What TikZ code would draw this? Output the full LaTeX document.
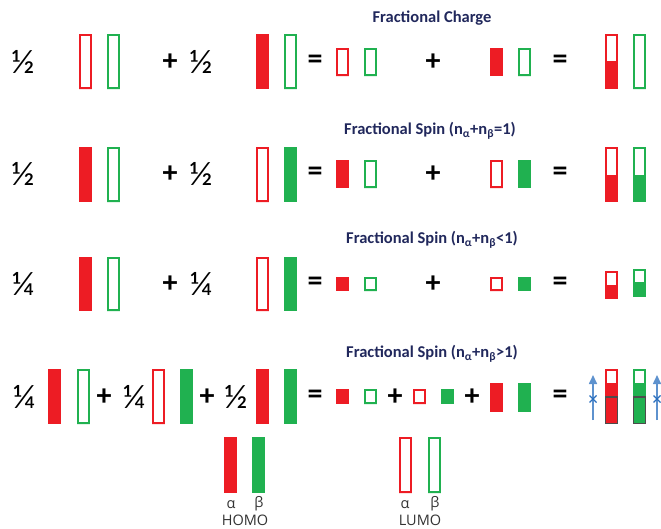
\documentclass[tikz,border=0pt]{standalone}
\usepackage{fontspec}
\setmainfont{Carlito}
\newfontfamily\legendfont{Open Sans}
\usetikzlibrary{arrows.meta}
\definecolor{aRed}{RGB}{237,28,36}
\definecolor{bGreen}{RGB}{32,177,80}
\definecolor{titleblue}{RGB}{33,40,92}
\definecolor{spinblue}{RGB}{40,110,190}
\tikzset{
  lvlln/.style={line width=1.6pt},
  sym/.style={font=\fontsize{34}{34}\selectfont, inner sep=0pt},
  op/.style={font=\bfseries\fontsize{30}{30}\selectfont, inner sep=0pt},
  ttl/.style={titleblue, font=\bfseries\fontsize{16.5}{16.5}\selectfont, inner sep=0pt},
  lgd/.style={font=\legendfont\fontsize{14.5}{14.5}\selectfont, text=black!80, inner sep=0pt},
  spinarr/.style={-{Triangle[length=9pt,width=8pt]}, line width=1.6pt, spinblue!75},
  spinx/.style={spinblue, line width=1.1pt},
}
% orbital level: colour, left x, top y, bottom y, top of the filling
\newcommand{\lvl}[5]{%
  \fill[#1] (#2,#5) rectangle (#2+13,#4);
  \draw[lvlln, #1] (#2+0.8,#3+0.8) rectangle (#2+12.2,#4-0.8);
}

\begin{document}
\begin{tikzpicture}[x=1pt,y=-1pt]
  \useasboundingbox (0,0) rectangle (661,529);
  % titles
  \node[ttl] (t1) at (432,18) {Fractional Charge};
  \node[ttl] (t2) at (430,131) {Fractional Spin (n\textsubscript{α}+n\textsubscript{β}=1)};
  \node[ttl] (t3) at (432,240) {Fractional Spin (n\textsubscript{α}+n\textsubscript{β}<1)};
  \node[ttl] (t4) at (432,354) {Fractional Spin (n\textsubscript{α}+n\textsubscript{β}>1)};
  % weights and signs, rows 1-3
  \foreach \y/\f/\r in {62/½/1, 174/½/2, 284/¼/3} {
    \node[sym] (fa\r) at (23,\y) {\f};
    \node[op] (pa\r) at (170,\y) {+};
    \node[sym] (fb\r) at (201,\y) {\f};
    \node[op] (ea\r) at (315,\y) {=};
    \node[op] (pb\r) at (433,\y) {+};
    \node[op] (eb\r) at (560,\y) {=};
  }
  % row 1
  \lvl{aRed}{79}{34}{89}{89}
  \lvl{bGreen}{107}{34}{89}{89}
  \lvl{aRed}{256}{34}{89}{34}
  \lvl{bGreen}{284}{34}{89}{89}
  \lvl{aRed}{336}{48}{76}{76}
  \lvl{bGreen}{364}{48}{76}{76}
  \lvl{aRed}{490}{48}{76}{48}
  \lvl{bGreen}{518}{48}{76}{76}
  \lvl{aRed}{605}{34}{89}{61}
  \lvl{bGreen}{633}{34}{89}{89}
  % row 2
  \lvl{aRed}{79}{147}{202}{147}
  \lvl{bGreen}{107}{147}{202}{202}
  \lvl{aRed}{256}{147}{202}{202}
  \lvl{bGreen}{284}{147}{202}{147}
  \lvl{aRed}{336}{160}{188}{160}
  \lvl{bGreen}{364}{160}{188}{188}
  \lvl{aRed}{490}{160}{188}{188}
  \lvl{bGreen}{518}{160}{188}{160}
  \lvl{aRed}{605}{147}{202}{175}
  \lvl{bGreen}{633}{147}{202}{175}
  % row 3
  \lvl{aRed}{79}{257}{311}{257}
  \lvl{bGreen}{107}{257}{311}{311}
  \lvl{aRed}{256}{257}{311}{311}
  \lvl{bGreen}{284}{257}{311}{257}
  \lvl{aRed}{336}{277}{291}{277}
  \lvl{bGreen}{364}{277}{291}{291}
  \lvl{aRed}{490}{277}{291}{291}
  \lvl{bGreen}{518}{277}{291}{277}
  \lvl{aRed}{605}{271}{299}{285}
  \lvl{bGreen}{633}{269}{297}{282}
  % row 4
  \node[sym] (fa4) at (24,397) {¼};
  \node[op] (pa4) at (104,397) {+};
  \node[sym] (fb4) at (134,397) {¼};
  \node[op] (pb4) at (207,397) {+};
  \node[sym] (fc4) at (236,397) {½};
  \node[op] (ea4) at (315,397) {=};
  \node[op] (pc4) at (395,397) {+};
  \node[op] (pd4) at (472,397) {+};
  \node[op] (eb4) at (560,397) {=};
  \lvl{aRed}{48}{369}{424}{369}
  \lvl{bGreen}{77}{369}{424}{424}
  \lvl{aRed}{152}{369}{424}{424}
  \lvl{bGreen}{180}{369}{424}{369}
  \lvl{aRed}{256}{369}{424}{369}
  \lvl{bGreen}{284}{369}{424}{369}
  \lvl{aRed}{336}{389}{404}{389}
  \lvl{bGreen}{364}{389}{404}{404}
  \lvl{aRed}{413}{389}{404}{404}
  \lvl{bGreen}{441}{389}{404}{389}
  \lvl{aRed}{490}{383}{412}{383}
  \lvl{bGreen}{518}{383}{412}{383}
  \lvl{aRed}{605}{369}{424}{383}
  \lvl{bGreen}{633}{369}{424}{383}
  \draw[line width=1.3pt, black!70] (605.7,397) rectangle (617.3,423.3);
  \draw[line width=1.3pt, black!70] (633.7,397) rectangle (645.3,423.3);
  % spin arrows
  \coordinate (upLa) at (593,420);
  \coordinate (upLb) at (593,375);
  \coordinate (upRa) at (657,420);
  \coordinate (upRb) at (657,375);
  \draw[spinarr] (upLa) -- (upLb);
  \draw[spinarr] (upRa) -- (upRb);
  \draw[spinx] (589.5,395.5) -- (596.5,402.5) (589.5,402.5) -- (596.5,395.5);
  \draw[spinx] (653.5,395.5) -- (660.5,402.5) (653.5,402.5) -- (660.5,395.5);
  % legend
  \lvl{aRed}{224}{437}{493}{437}
  \lvl{bGreen}{252}{437}{493}{437}
  \lvl{aRed}{399}{437}{493}{493}
  \lvl{bGreen}{428}{437}{493}{493}
  \node[lgd] (ha) at (231,505) {α};
  \node[lgd] (hb) at (259,504) {β};
  \node[lgd] (homo) at (245,520) {HOMO};
  \node[lgd] (la) at (405,505) {α};
  \node[lgd] (lb) at (435,504) {β};
  \node[lgd] (lumo) at (420,520) {LUMO};
\end{tikzpicture}
\end{document}
